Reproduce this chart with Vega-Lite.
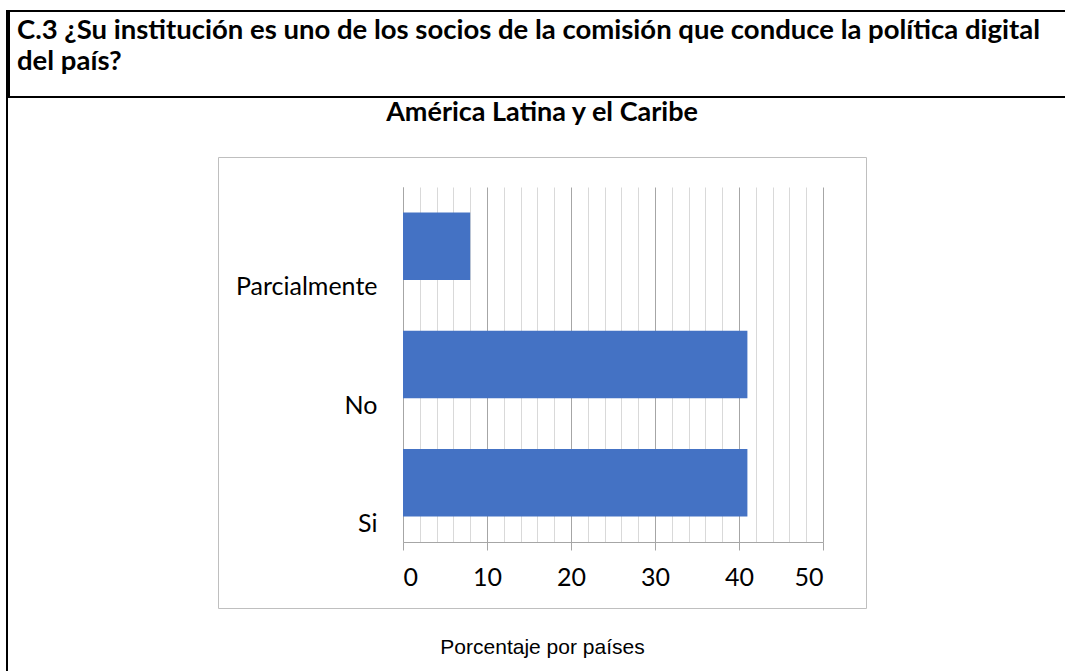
{
  "$schema": "https://vega.github.io/schema/vega-lite/v6.json",
  "background": "white",
  "padding": {"left": 6, "top": 10, "right": 0, "bottom": 0},
  "spacing": -2,
  "config": {"view": {"stroke": null}},
  "hconcat": [
    {
      "width": 0.001,
      "height": 659,
      "view": {"stroke": "black", "strokeWidth": 2},
      "data": {"values": []},
      "mark": {"type": "point", "opacity": 0}
    },
    {
      "spacing": 0,
      "vconcat": [
        {
          "width": 1057,
          "height": 86,
          "view": {"stroke": "black", "strokeWidth": 2, "strokeDash": [1057, 86, 1143]},
          "data": {"values": [
            {"orden": 1, "linea": "C.3 ¿Su institución es uno de los socios de la comisión que conduce la política digital"},
            {"orden": 2, "linea": "del país?"}
          ]},
          "mark": {"type": "text", "align": "left", "baseline": "middle", "font": "Lato", "fontSize": 27.5, "fontWeight": "bold", "color": "black", "dx": 8},
          "encoding": {
            "y": {"field": "orden", "type": "ordinal", "axis": null, "scale": {"type": "point", "range": [20, 51], "padding": 0}},
            "x": {"datum": 0, "type": "quantitative", "axis": null, "scale": {"domain": [0, 1]}},
            "text": {"field": "linea"}
          }
        },
        {
          "spacing": 206,
          "hconcat": [
            {
              "width": 0.001,
              "height": 10,
              "view": {"stroke": "transparent", "strokeWidth": 2},
              "data": {"values": []},
              "mark": {"type": "point", "opacity": 0}
            },
            {
              "width": 648,
              "height": 451,
              "view": {"stroke": "#bfbfbf", "strokeWidth": 1},
              "title": {"text": "América Latina y el Caribe", "font": "Lato", "fontSize": 27, "fontWeight": "bold", "color": "black", "anchor": "middle", "offset": 30},
              "data": {"values": [
                {"respuesta": "Parcialmente", "porcentaje": 8},
                {"respuesta": "No", "porcentaje": 41},
                {"respuesta": "Si", "porcentaje": 41}
              ]},
              "encoding": {
                "y": {
                  "field": "respuesta", "type": "nominal",
                  "sort": ["Parcialmente", "No", "Si"],
                  "scale": {"range": [30, 385], "paddingInner": 0.43, "paddingOuter": 0.215},
                  "axis": {"orient": "left", "offset": -185, "title": null, "ticks": false, "tickSize": 0, "labelPadding": 26, "labelOffset": 41, "labelFont": "Lato", "labelFontSize": 25, "labelColor": "black", "domainColor": "#a6a6a6", "domainWidth": 1, "grid": false}
                }
              },
              "layer": [
                {
                  "mark": {"type": "bar", "color": "#4472c4"},
                  "encoding": {
                    "x": {
                      "field": "porcentaje", "type": "quantitative",
                      "scale": {"domain": [0, 50], "range": [185, 605], "nice": false, "zero": true},
                      "axis": {
                        "orient": "top", "title": null, "labels": false, "ticks": false, "domain": false, "grid": true,
                        "values": [0, 2, 4, 6, 8, 10, 12, 14, 16, 18, 20, 22, 24, 26, 28, 30, 32, 34, 36, 38, 40, 42, 44, 46, 48, 50],
                        "gridColor": {"condition": {"test": "datum.value % 10 === 0", "value": "#a6a6a6"}, "value": "#d9d9d9"},
                        "gridWidth": 1
                      }
                    }
                  }
                },
                {
                  "mark": {"type": "bar", "opacity": 0},
                  "encoding": {
                    "x": {
                      "field": "porcentaje", "type": "quantitative",
                      "scale": {"domain": [0, 50], "range": [185, 605], "nice": false, "zero": true},
                      "axis": {
                        "orient": "bottom", "offset": -66, "grid": false,
                        "values": [0, 10, 20, 30, 40, 50],
                        "ticks": true, "tickSize": 8, "tickColor": "#a6a6a6", "domainColor": "#a6a6a6",
                        "labelFont": "Lato", "labelFontSize": 25, "labelColor": "black", "labelPadding": 15,
                        "title": "Porcentaje por países", "titleFont": "Liberation Sans", "titleFontSize": 21, "titleFontWeight": "normal", "titleColor": "black",
                        "titleX": 324, "titleY": 105, "titleAlign": "center", "titleBaseline": "middle", "titleAnchor": null
                      }
                    }
                  }
                }
              ],
              "resolve": {"axis": {"x": "independent"}}
            }
          ]
        }
      ]
    }
  ]
}
